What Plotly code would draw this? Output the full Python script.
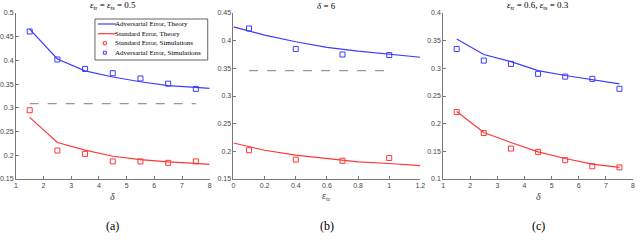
import plotly.graph_objects as go

# Panel (a): eps_tr = eps_ts = 0.5, x = delta
a_x_theory = [1.5, 2.5, 3.5, 4.5, 5.5, 6.5, 7.5, 8.0]
a_adv_theory = [0.466, 0.403, 0.378, 0.365, 0.355, 0.347, 0.343, 0.341]
a_std_theory = [0.280, 0.227, 0.211, 0.198, 0.191, 0.186, 0.183, 0.181]
a_x_sim = [1.5, 2.5, 3.5, 4.5, 5.5, 6.5, 7.5]
a_adv_sim = [0.461, 0.402, 0.382, 0.373, 0.362, 0.351, 0.340]
a_std_sim = [0.295, 0.210, 0.203, 0.187, 0.187, 0.184, 0.187]
a_dash_x = [1.5, 7.5]
a_dash_y = [0.309, 0.309]

# Panel (b): delta = 6, x = eps_tr
b_x_theory = [0.0, 0.2, 0.4, 0.6, 0.8, 1.0, 1.2]
b_adv_theory = [0.425, 0.410, 0.398, 0.388, 0.381, 0.375, 0.370]
b_std_theory = [0.215, 0.202, 0.193, 0.187, 0.181, 0.178, 0.174]
b_x_sim = [0.1, 0.4, 0.7, 1.0]
b_adv_sim = [0.422, 0.385, 0.375, 0.374]
b_std_sim = [0.202, 0.185, 0.183, 0.188]
b_dash_x = [0.1, 1.0]
b_dash_y = [0.346, 0.346]

# Panel (c): eps_tr = 0.6, eps_ts = 0.3, x = delta
c_x_theory = [1.5, 2.5, 3.5, 4.5, 5.5, 6.5, 7.5]
c_adv_theory = [0.353, 0.325, 0.312, 0.296, 0.287, 0.279, 0.272]
c_std_theory = [0.222, 0.184, 0.166, 0.149, 0.137, 0.127, 0.121]
c_x_sim = [1.5, 2.5, 3.5, 4.5, 5.5, 6.5, 7.5]
c_adv_sim = [0.335, 0.314, 0.308, 0.290, 0.285, 0.281, 0.263]
c_std_sim = [0.221, 0.183, 0.155, 0.149, 0.134, 0.123, 0.121]

legend_names = ["Adversarial Error, Theory", "Standard Error, Theory",
                "Standard Error, Simulations", "Adversarial Error, Simulations"]

BLUE = "rgb(60,60,255)"
RED = "rgb(255,55,55)"
GRAY = "rgb(150,150,150)"
W, H = 640, 248
MT, MB = 13, 69
PH = H - MT - MB

fig = go.Figure()

def add_panel(ax, xt, adv_t, std_t, xs, adv_s, std_s, dx=None, dy=None):
    xa = "x" if ax == 1 else f"x{ax}"
    ya = "y" if ax == 1 else f"y{ax}"
    fig.add_trace(go.Scatter(x=xt, y=adv_t, mode="lines", line=dict(color=BLUE, width=1.2),
                             name=legend_names[0], showlegend=False, xaxis=xa, yaxis=ya))
    fig.add_trace(go.Scatter(x=xt, y=std_t, mode="lines", line=dict(color=RED, width=1.2),
                             name=legend_names[1], showlegend=False, xaxis=xa, yaxis=ya))
    fig.add_trace(go.Scatter(x=xs, y=std_s, mode="markers",
                             marker=dict(symbol="square-open", color=RED, size=5, line=dict(width=1)),
                             name=legend_names[2], showlegend=False, xaxis=xa, yaxis=ya))
    fig.add_trace(go.Scatter(x=xs, y=adv_s, mode="markers",
                             marker=dict(symbol="square-open", color=BLUE, size=5, line=dict(width=1)),
                             name=legend_names[3], showlegend=False, xaxis=xa, yaxis=ya))
    if dx is not None:
        fig.add_trace(go.Scatter(x=dx, y=dy, mode="lines", line=dict(color=GRAY, width=1.2, dash="dash"),
                                 showlegend=False, xaxis=xa, yaxis=ya, hoverinfo="skip"))

add_panel(1, a_x_theory, a_adv_theory, a_std_theory, a_x_sim, a_adv_sim, a_std_sim, a_dash_x, a_dash_y)
add_panel(2, b_x_theory, b_adv_theory, b_std_theory, b_x_sim, b_adv_sim, b_std_sim, b_dash_x, b_dash_y)
add_panel(3, c_x_theory, c_adv_theory, c_std_theory, c_x_sim, c_adv_sim, c_std_sim)

tickfont = dict(family="Liberation Sans, Arial", size=7, color="rgb(70,70,70)")
axcommon = dict(showline=True, linecolor="rgb(120,120,120)", linewidth=0.8, ticks="inside", ticklen=3,
                tickcolor="rgb(120,120,120)", tickwidth=0.8, showgrid=False, zeroline=False,
                tickfont=tickfont, mirror=False)

doms = [(14 / W, 210 / W), (234 / W, 423 / W), (446 / W, 638 / W)]
fig.update_layout(
    xaxis=dict(domain=doms[0], range=[1, 8], tickvals=[1, 2, 3, 4, 5, 6, 7, 8], anchor="y", **axcommon),
    yaxis=dict(domain=[0, 1], range=[0.15, 0.5], tickvals=[0.15, 0.2, 0.25, 0.3, 0.35, 0.4, 0.45, 0.5],
               ticktext=["0.15", "0.2", "0.25", "0.3", "0.35", "0.4", "0.45", "0.5"], anchor="x", **axcommon),
    xaxis2=dict(domain=doms[1], range=[0, 1.2], tickvals=[0, 0.2, 0.4, 0.6, 0.8, 1, 1.2], anchor="y2", **axcommon),
    yaxis2=dict(domain=[0, 1], range=[0.15, 0.45], tickvals=[0.15, 0.2, 0.25, 0.3, 0.35, 0.4, 0.45],
                ticktext=["0.15", "0.2", "0.25", "0.3", "0.35", "0.4", "0.45"], anchor="x2", **axcommon),
    xaxis3=dict(domain=doms[2], range=[1, 8], tickvals=[1, 2, 3, 4, 5, 6, 7, 8], anchor="y3", **axcommon),
    yaxis3=dict(domain=[0, 1], range=[0.1, 0.4], tickvals=[0.1, 0.15, 0.2, 0.25, 0.3, 0.35, 0.4],
                ticktext=["0.1", "0.15", "0.2", "0.25", "0.3", "0.35", "0.4"], anchor="x3", **axcommon),
    width=W, height=H,
    margin=dict(l=0, r=0, t=MT, b=MB),
    plot_bgcolor="white", paper_bgcolor="white",
    showlegend=False,
)

serif = "Liberation Serif, Times New Roman"
def py(pix):
    return (H - MB - pix) / PH
def px(pix):
    return pix / W

def note(text, x, y, size, color="black", xanchor="center"):
    fig.add_annotation(text=text, x=x, y=y, xref="paper", yref="paper", xanchor=xanchor,
                       yanchor="middle", showarrow=False, font=dict(family=serif, size=size, color=color))

# Manual compact legend (panel a)
fig.add_shape(type="rect", xref="paper", yref="paper", x0=px(94), x1=px(208), y0=py(60), y1=py(19),
              line=dict(color="rgb(60,60,60)", width=0.8), fillcolor="white", layer="above")
entry_y = [24, 33.7, 43.3, 52.7]
styles = [("line", BLUE), ("line", RED), ("marker", RED), ("marker", BLUE)]
for name, ey, (kind, col) in zip(legend_names, entry_y, styles):
    if kind == "line":
        fig.add_shape(type="line", xref="paper", yref="paper", x0=px(97), x1=px(115), y0=py(ey), y1=py(ey),
                      line=dict(color=col, width=1.2), layer="above")
    else:
        fig.add_shape(type="rect", xref="paper", yref="paper", x0=px(102.5), x1=px(105.5),
                      y0=py(ey + 1.5), y1=py(ey - 1.5), line=dict(color=col, width=1), layer="above")
    note(name, px(112), py(ey), 7, xanchor="left")

titles = [
    ("<i>ε</i><sub>tr</sub> = <i>ε</i><sub>ts</sub> = 0.5", doms[0]),
    ("<i>δ</i> = 6", doms[1]),
    ("<i>ε</i><sub>tr</sub> = 0.6, <i>ε</i><sub>ts</sub> = 0.3", doms[2]),
]
for t, d in titles:
    note(t, (d[0] + d[1]) / 2, py(6), 9)
xtitles = ["<i>δ</i>", "<i>ε</i><sub>tr</sub>", "<i>δ</i>"]
labels = ["(a)", "(b)", "(c)"]
for t, lab, d in zip(xtitles, labels, doms):
    cx = (d[0] + d[1]) / 2
    note(t, cx, py(196), 10, color="rgb(60,60,60)")
    note(lab, cx, py(226), 12)

fig.write_html("out.html", config={"displayModeBar": False},
               post_script="document.body.style.margin='0';document.body.style.overflow='hidden';")
